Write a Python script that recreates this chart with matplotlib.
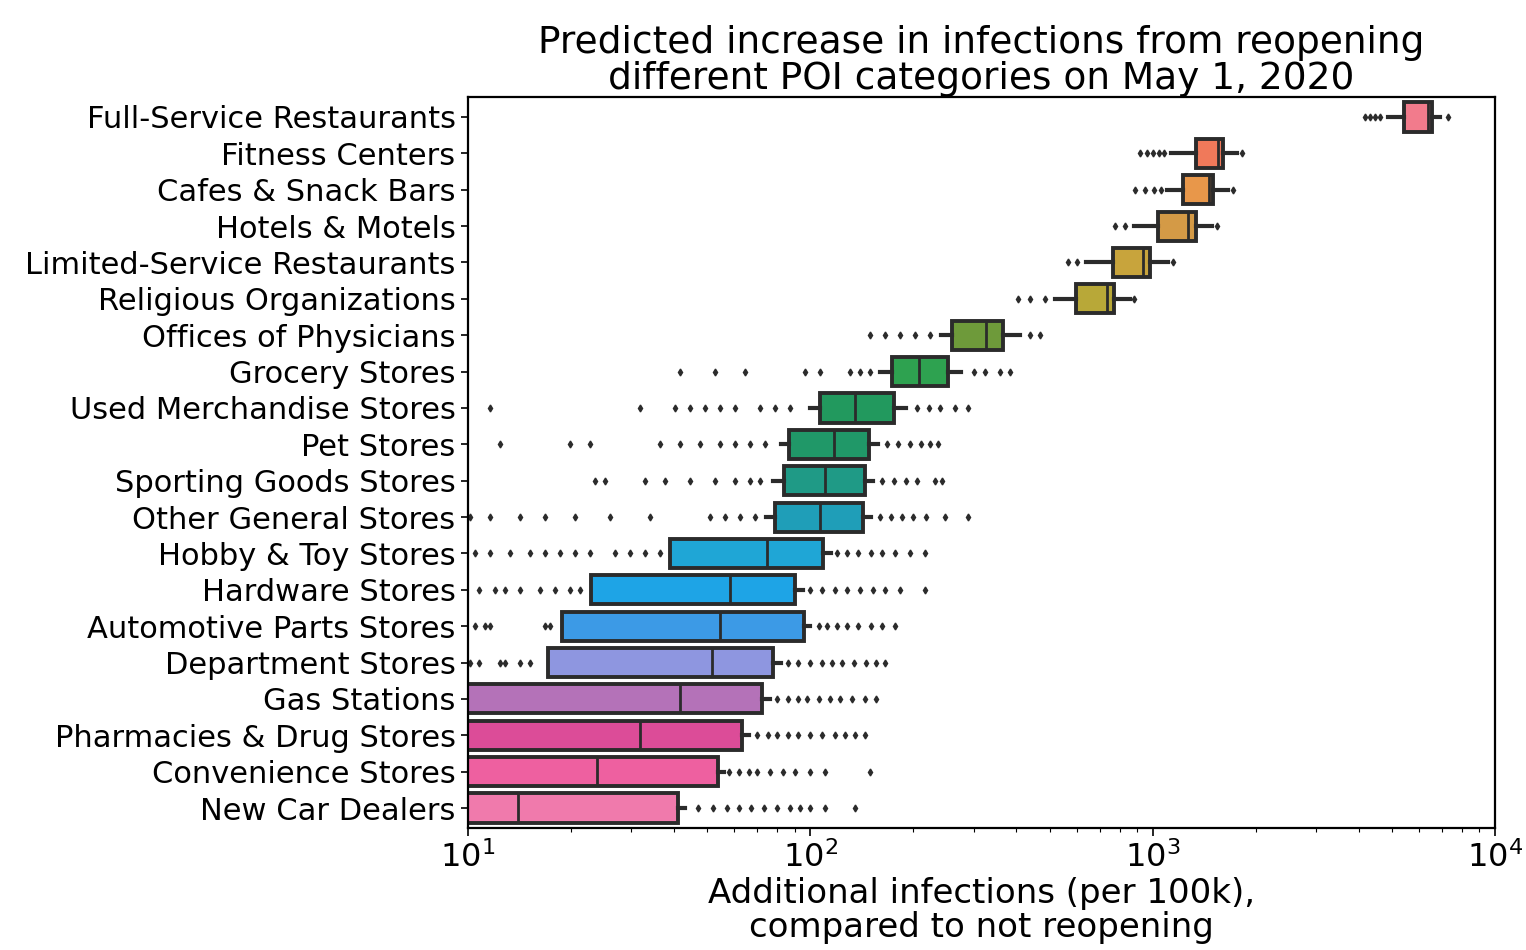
import matplotlib.pyplot as plt

# -------------------------
# DATA
# -------------------------
categories = [
    'Full-Service Restaurants', 'Fitness Centers', 'Cafes & Snack Bars',
    'Hotels & Motels', 'Limited-Service Restaurants', 'Religious Organizations',
    'Offices of Physicians', 'Grocery Stores', 'Used Merchandise Stores',
    'Pet Stores', 'Sporting Goods Stores', 'Other General Stores',
    'Hobby & Toy Stores', 'Hardware Stores', 'Automotive Parts Stores',
    'Department Stores', 'Gas Stations', 'Pharmacies & Drug Stores',
    'Convenience Stores', 'New Car Dealers',
]

q1 = [5430, 1339, 1227, 1037, 766, 597, 259, 173, 107, 86.7,
      83.8, 78.9, 38.9, 22.9, 18.8, 17.1, 9.5, 9.3, 9.0, 9.0]
median = [6350, 1553, 1462, 1269, 937, 736, 326, 208, 135, 117,
          110, 107, 74.7, 58.2, 54.5, 51.6, 41.6, 31.8, 23.8, 14.0]
q3 = [6550, 1606, 1502, 1339, 982, 771, 366, 252, 175, 148,
      144.5, 142.6, 108.9, 90.2, 95.9, 77.8, 72.2, 63.1, 53.7, 41.1]
whisker_low = [4870, 1130, 1100, 880, 640, 520, 240, 160, 100, 82,
               78, 74, 38.9, 22.9, 18.8, 17.1, 9.5, 9.3, 9.0, 9.0]
whisker_high = [6920, 1765, 1660, 1491, 1110, 859, 410, 275, 190, 158,
                152, 150, 115, 95, 100, 82, 76, 66, 56, 43]

fliers = [
    [4170, 4300, 4450, 4620, 7300],
    [920, 960, 1000, 1040, 1080, 1820],
    [890, 950, 1010, 1060, 1720],
    [776, 830, 1540],
    [566, 600, 1150],
    [404, 438, 485, 880],
    [149, 165, 183, 202, 224, 438, 469],
    [41.6, 52.7, 64.4, 96.5, 106.7, 130.6, 139.7, 149, 300, 324, 358, 383],
    [11.6, 31.8, 40.3, 44.5, 49.2, 54.5, 60.3, 71.3, 78.9, 87.3, 205, 222, 239, 265, 289],
    [12.4, 19.9, 22.7, 36.4, 41.6, 47.6, 54.5, 60.3, 66.7, 73.8, 168, 180, 195, 210, 224, 236],
    [23.5, 25.1, 32.9, 37.6, 44.5, 52.7, 60.3, 66.7, 71.3, 162, 175, 190, 205, 231, 243],
    [10.1, 11.6, 14.2, 16.8, 20.5, 26.0, 34.0, 50.9, 56.3, 62.4, 68.9,
     160, 172, 185, 200, 218, 247, 289],
    [10.5, 11.6, 13.3, 15.2, 16.8, 18.6, 20.5, 22.7, 26.9, 29.7, 32.9, 36.4,
     120, 128, 138, 150, 162, 177, 195, 216],
    [10.8, 12.0, 12.8, 14.2, 16.2, 17.9, 19.9, 21.2,
     100, 108, 118, 128, 140, 152, 165, 183, 216],
    [10.5, 11.2, 11.6, 16.8, 17.4, 106, 112, 120, 128, 138, 150, 162, 177],
    [10.1, 10.8, 12.4, 12.8, 14.2, 15.2, 86, 92, 100, 108, 116, 124, 134, 145, 155, 165],
    [80, 86, 92, 98, 106, 114, 122, 132, 144, 155],
    [70, 75, 80, 86, 92, 100, 108, 118, 126, 135, 144],
    [58, 62, 66, 70, 76, 83, 90, 100, 110, 149],
    [47, 52, 57, 62, 67, 73, 80, 87, 93, 100, 110, 135],
]

# -------------------------
# STYLE
# -------------------------
plt.rcParams['font.family'] = ['DejaVu Sans']
line_col = '#2b2b2b'
palette = [
    '#f27b8c', '#f0795a', '#e8974a', '#d49a46', '#c8a43c', '#b8a838',
    '#6e9a3a', '#2ea250', '#22995e', '#209868', '#1f9a86', '#1f9eb8',
    '#1fa6d6', '#1ea4e6', '#3c9ae6', '#8e96e0', '#b472b8', '#dc4c98',
    '#ee60a0', '#f07aac',
]

fig = plt.figure(figsize=(15.26, 9.5), dpi=100)
ax = fig.add_axes([0.3067, 0.1284, 0.673, 0.7695])

stats = []
for i, name in enumerate(categories):
    stats.append({
        'label': name,
        'q1': q1[i], 'med': median[i], 'q3': q3[i],
        'whislo': whisker_low[i], 'whishi': whisker_high[i],
        'fliers': fliers[i],
    })

bp = ax.bxp(
    stats, positions=list(range(len(categories))), widths=0.8,
    orientation='horizontal', patch_artist=True, showcaps=False,
    boxprops=dict(edgecolor=line_col, linewidth=2.8),
    medianprops=dict(color=line_col, linewidth=2.0),
    whiskerprops=dict(color=line_col, linewidth=3.0),
    flierprops=dict(marker='d', markersize=3.5, markerfacecolor=line_col,
                    markeredgecolor=line_col, linestyle='none'),
)
for patch, col in zip(bp['boxes'], palette):
    patch.set_facecolor(col)

ax.set_xscale('log')
ax.set_xlim(10, 10000)
ax.set_ylim(len(categories) - 0.45, -0.55)
ax.set_yticks(range(len(categories)))
ax.set_yticklabels(categories)

ax.tick_params(axis='y', labelsize=22, length=5, width=1.2, pad=4)
ax.tick_params(axis='x', which='major', labelsize=23, length=6, width=1.2)
ax.tick_params(axis='x', which='minor', length=3, width=0.8)
for spine in ax.spines.values():
    spine.set_linewidth(1.6)

ax.set_xlabel('Additional infections (per 100k),\ncompared to not reopening',
              fontsize=24.5, linespacing=1.05, labelpad=2)
ax.set_title('Predicted increase in infections from reopening\n'
             'different POI categories on May 1, 2020',
             fontsize=27, linespacing=1.0, pad=6)

plt.savefig('out.png', dpi=100)
